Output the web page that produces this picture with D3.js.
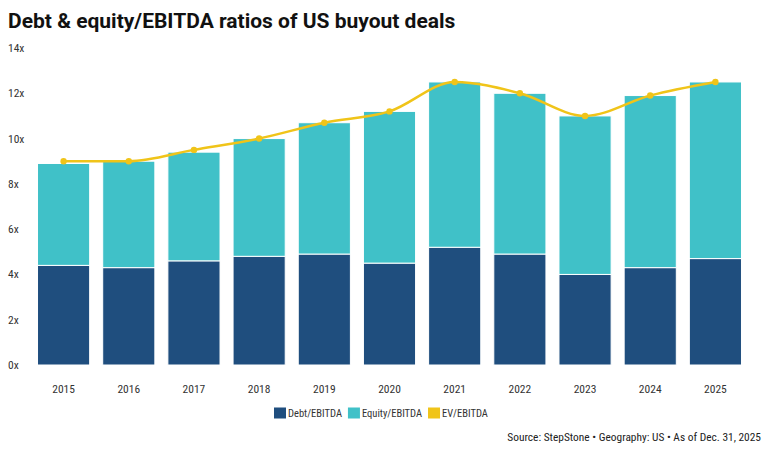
<!DOCTYPE html>
<html>
<head>
<meta charset="utf-8">
<script src="https://cdn.jsdelivr.net/npm/d3@7"></script>
<style>
  body { margin: 0; background: #fff; }
  text { font-family: "Roboto Condensed", "Liberation Sans Narrow", "DejaVu Sans Condensed", Roboto, sans-serif; }
  text.title { font-family: Roboto, "Noto Sans", sans-serif; }
</style>
</head>
<body>
<div id="chart"></div>
<script>
var years = ["2015", "2016", "2017", "2018", "2019", "2020", "2021", "2022", "2023", "2024", "2025"];
var debt = [4.4, 4.3, 4.6, 4.8, 4.9, 4.5, 5.2, 4.9, 4.0, 4.3, 4.7];
var equity = [4.5, 4.7, 4.8, 5.2, 5.8, 6.7, 7.3, 7.1, 7.0, 7.6, 7.8];
var ev = [9.0, 9.0, 9.5, 10.0, 10.7, 11.2, 12.5, 12.0, 11.0, 11.9, 12.5];
var yTicks = [0, 2, 4, 6, 8, 10, 12, 14];
var legendItems = ["Debt/EBITDA", "Equity/EBITDA", "EV/EBITDA"];
var colors = ["#1f4e7e", "#40c1c8", "#f0c419"];

var width = 768, height = 452;

var svg = d3.select("#chart")
  .append("svg")
    .attr("width", width)
    .attr("height", height);

// title
svg.append("text")
    .attr("class", "title")
    .attr("x", 8)
    .attr("y", 28)
    .attr("font-size", 21)
    .attr("font-weight", 700)
    .attr("fill", "#111")
    .text("Debt & equity/EBITDA ratios of US buyout deals");

var x = d3.scaleBand()
    .domain(years)
    .range([31, 748])
    .paddingInner(0.2)
    .paddingOuter(0.1);

var y = d3.scaleLinear()
    .domain([0, 14])
    .range([365, 48]);

// y tick labels
svg.selectAll(".ytick")
  .data(yTicks)
  .enter().append("text")
    .attr("class", "ytick")
    .attr("x", 8)
    .attr("y", function(d) { return y(d); })
    .attr("dy", "0.35em")
    .attr("font-size", 11.5)
    .attr("fill", "#333")
    .text(function(d) { return d + "x"; });

// x labels
svg.selectAll(".xtick")
  .data(years)
  .enter().append("text")
    .attr("class", "xtick")
    .attr("x", function(d) { return x(d) + x.bandwidth() / 2; })
    .attr("y", 389)
    .attr("dy", "0.35em")
    .attr("text-anchor", "middle")
    .attr("font-size", 11.5)
    .attr("fill", "#333")
    .text(function(d) { return d; });

// stacked bars
var rows = years.map(function(yr, i) { return {year: yr, debt: debt[i], equity: equity[i]}; });
var series = d3.stack().keys(["debt", "equity"])(rows);

svg.selectAll(".layer")
  .data(series)
  .enter().append("g")
    .attr("class", "layer")
    .attr("fill", function(d, i) { return colors[i]; })
  .selectAll("rect")
  .data(function(d) { return d; })
  .enter().append("rect")
    .attr("x", function(d) { return x(d.data.year); })
    .attr("y", function(d) { return y(d[1]); })
    .attr("width", x.bandwidth())
    .attr("height", function(d) { return y(d[0]) - y(d[1]); })
    .attr("stroke", "#fff")
    .attr("stroke-width", 1);

// EV line
var line = d3.line()
    .x(function(d, i) { return x(years[i]) + x.bandwidth() / 2; })
    .y(function(d) { return y(d); })
    .curve(d3.curveMonotoneX);

svg.append("path")
    .datum(ev)
    .attr("fill", "none")
    .attr("stroke", colors[2])
    .attr("stroke-width", 2.5)
    .attr("d", line);

svg.selectAll(".dot")
  .data(ev)
  .enter().append("circle")
    .attr("class", "dot")
    .attr("cx", function(d, i) { return x(years[i]) + x.bandwidth() / 2; })
    .attr("cy", function(d) { return y(d); })
    .attr("r", 3.2)
    .attr("fill", colors[2]);

// legend
var legend = svg.append("g")
    .attr("transform", "translate(274,413)");

var lx = 0;
legendItems.forEach(function(name, i) {
  var item = legend.append("g").attr("transform", "translate(" + lx + ",0)");
  item.append("rect")
      .attr("x", 0)
      .attr("y", -5.5)
      .attr("width", 12)
      .attr("height", 11)
      .attr("fill", colors[i]);
  var t = item.append("text")
      .attr("x", 14)
      .attr("y", 0)
      .attr("dy", "0.35em")
      .attr("font-size", 10.5)
      .attr("fill", "#333")
      .text(name);
  lx += 14 + t.node().getComputedTextLength() + 6;
});

// source
svg.append("text")
    .attr("x", 761)
    .attr("y", 437)
    .attr("dy", "0.35em")
    .attr("text-anchor", "end")
    .attr("font-size", 11.4)
    .attr("fill", "#222")
    .text("Source: StepStone \u2022 Geography: US \u2022 As of Dec. 31, 2025");
</script>
</body>
</html>
